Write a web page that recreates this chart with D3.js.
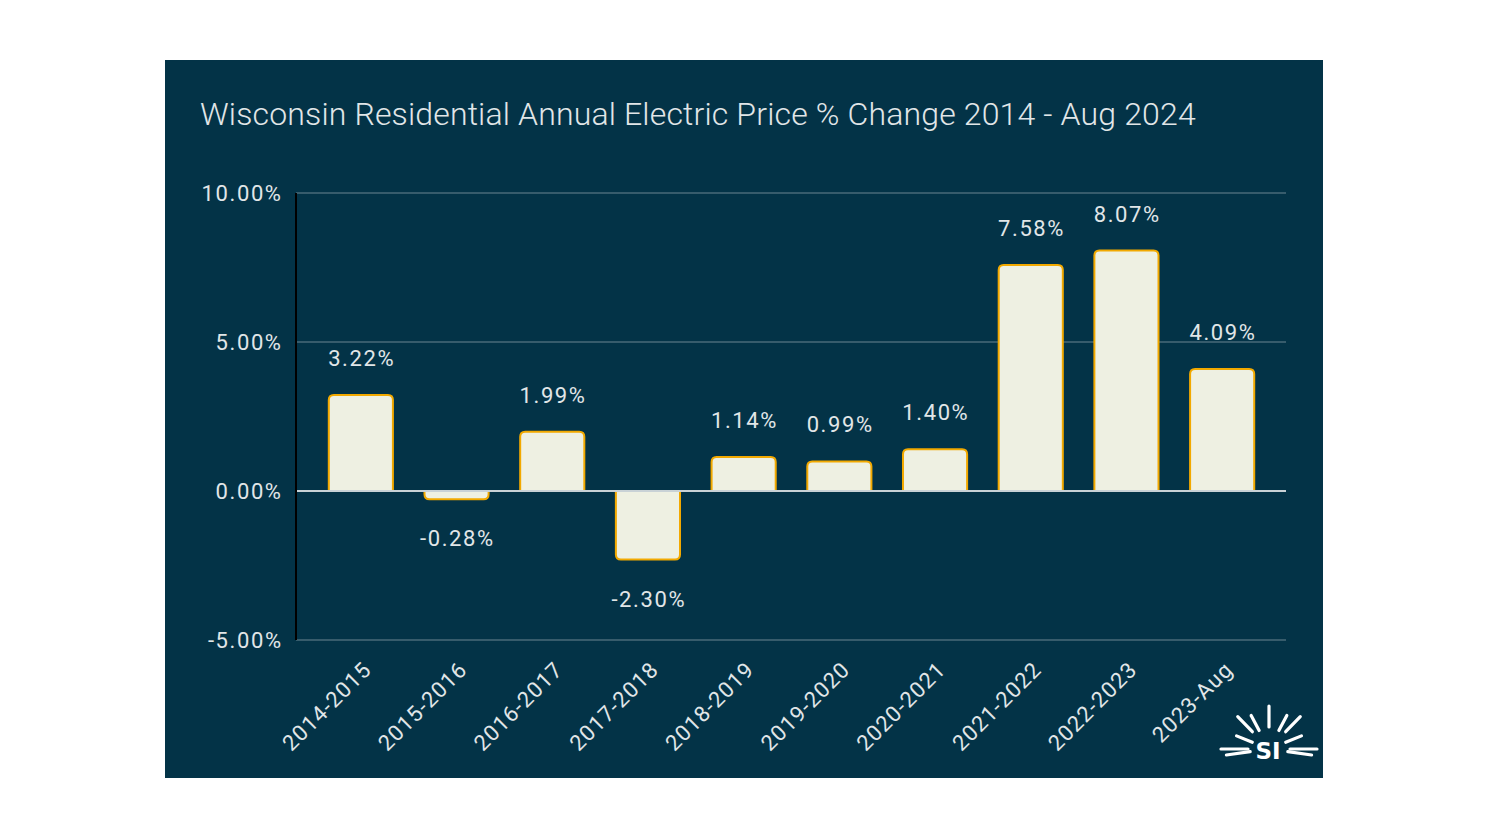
<!DOCTYPE html>
<html>
<head>
<meta charset="utf-8">
<script src="https://cdn.jsdelivr.net/npm/d3@7"></script>
<style>
html,body{margin:0;padding:0;background:#ffffff;}
svg{display:block;}
</style>
</head>
<body>
<svg id="chart" width="1488" height="837"></svg>
<script>
const categories = ["2014-2015","2015-2016","2016-2017","2017-2018","2018-2019","2019-2020","2020-2021","2021-2022","2022-2023","2023-Aug"];
const values = [3.22, -0.28, 1.99, -2.30, 1.14, 0.99, 1.40, 7.58, 8.07, 4.09];
const yTicks = [-5, 0, 5, 10];
const title = "Wisconsin Residential Annual Electric Price % Change 2014 - Aug 2024";

const svg = d3.select("#chart");
const font = "Roboto, 'Liberation Sans', sans-serif";
const txt = "#e1e6e8";
const ls = 1.6;
const fmt = v => d3.format(".2f")(v).replace("\u2212","-") + "%";

svg.append("rect").attr("x",165).attr("y",60).attr("width",1158).attr("height",718).attr("fill","#033347");

svg.append("text").attr("x",200).attr("y",125).attr("fill",txt)
  .attr("font-family",font).attr("font-size",32).attr("font-weight",300).attr("letter-spacing",0.15).text(title);

const y = d3.scaleLinear().domain([-5,10]).range([640,193]);
const x = d3.scaleBand().domain(categories).range([313,1270]).paddingInner(0.33).paddingOuter(0.165);

// gridlines
svg.append("g").selectAll("line").data(yTicks.filter(d=>d!==0)).join("line")
  .attr("x1",296).attr("x2",1286).attr("y1",d=>y(d)).attr("y2",d=>y(d))
  .attr("stroke","#4a6b79").attr("stroke-width",1.5);

// y tick labels
svg.append("g").selectAll("text").data(yTicks).join("text")
  .attr("x",281+ls).attr("y",d=>y(d)+8).attr("text-anchor","end")
  .attr("fill",txt).attr("font-family",font).attr("font-size",22).attr("letter-spacing",ls)
  .text(fmt);

// bars with rounded outer corners
function barPath(d){
  const x0 = x(d.c), w = x.bandwidth();
  const y0 = y(0), y1 = y(d.v);
  const r = Math.min(5, Math.abs(y1-y0));
  if(d.v>=0){
    return `M${x0},${y0}V${y1+r}Q${x0},${y1} ${x0+r},${y1}H${x0+w-r}Q${x0+w},${y1} ${x0+w},${y1+r}V${y0}Z`;
  } else {
    return `M${x0},${y0}V${y1-r}Q${x0},${y1} ${x0+r},${y1}H${x0+w-r}Q${x0+w},${y1} ${x0+w},${y1-r}V${y0}Z`;
  }
}
const data = categories.map((c,i)=>({c, v: values[i]}));
svg.append("g").selectAll("path").data(data).join("path")
  .attr("d",barPath).attr("fill","#eef0e2").attr("stroke","#f2a900").attr("stroke-width",2);

// zero line
svg.append("line").attr("x1",296).attr("x2",1286).attr("y1",y(0)).attr("y2",y(0))
  .attr("stroke","#c9d2d6").attr("stroke-width",2);

// y axis line
svg.append("line").attr("x1",296).attr("x2",296).attr("y1",193).attr("y2",640)
  .attr("stroke","#000000").attr("stroke-width",2);

// value labels
svg.append("g").selectAll("text").data(data).join("text")
  .attr("x",d=>x(d.c)+x.bandwidth()/2+ls/2)
  .attr("y",d=>d.v>=0 ? y(d.v)-29 : y(d.v)+47)
  .attr("text-anchor","middle").attr("fill",txt).attr("font-family",font).attr("font-size",22).attr("letter-spacing",ls)
  .text(d=>fmt(d.v));

// x labels
svg.append("g").selectAll("text").data(categories).join("text")
  .attr("transform",d=>`translate(${x(d)+x.bandwidth()/2+12},${671}) rotate(-45)`)
  .attr("text-anchor","end").attr("fill",txt).attr("font-family",font).attr("font-size",22).attr("letter-spacing",1.1)
  .text(d=>d);

// logo
const lg = svg.append("g").attr("transform","translate(1269,749)");
const rays = [[-90,22,43],[-118,21,38],[-62,21,38],[-134,24,45],[-46,24,45],[-158,18,35],[-22,18,35],[180,21,48],[0,21,48],[172,19,43],[8,19,43]];
lg.selectAll("line").data(rays).join("line")
  .attr("x1",d=>Math.cos(d[0]*Math.PI/180)*d[1]).attr("y1",d=>Math.sin(d[0]*Math.PI/180)*d[1])
  .attr("x2",d=>Math.cos(d[0]*Math.PI/180)*d[2]).attr("y2",d=>Math.sin(d[0]*Math.PI/180)*d[2])
  .attr("stroke","#ffffff").attr("stroke-width",3.2).attr("stroke-linecap","round");
lg.append("text").attr("x",-1).attr("y",10).attr("text-anchor","middle").attr("fill","#ffffff")
  .attr("font-family","'DejaVu Sans', sans-serif").attr("font-weight","bold").attr("font-size",23).text("SI");
</script>
</body>
</html>
